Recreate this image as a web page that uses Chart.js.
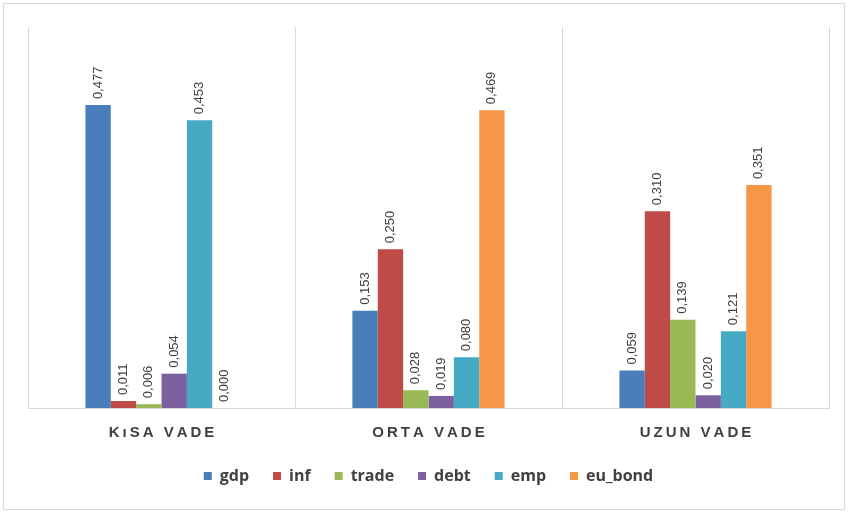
<!DOCTYPE html>
<html>
<head>
<meta charset="utf-8">
<script src="https://cdn.jsdelivr.net/npm/chart.js@4"></script>
<style>
  body { margin: 0; background: #fff; }
  #wrap { position: relative; width: 848px; height: 513px; }
  #frame { position: absolute; left: 3px; top: 3px; width: 840px; height: 505px; border: 1px solid #d9d9d9; pointer-events: none; }
</style>
</head>
<body>
<div id="wrap">
  <canvas id="myChart" width="848" height="513"></canvas>
  <div id="frame"></div>
</div>
<script>
// categories and series
const categories = ["KıSA VADE", "ORTA VADE", "UZUN VADE"];
const seriesNames = ["gdp", "inf", "trade", "debt", "emp", "eu_bond"];
const gdp = [0.477, 0.153, 0.059];
const inf = [0.011, 0.250, 0.310];
const trade = [0.006, 0.028, 0.139];
const debt = [0.054, 0.019, 0.020];
const emp = [0.453, 0.080, 0.121];
const eu_bond = [0.000, 0.469, 0.351];
const colors = ["#4A7EBB", "#BE4B48", "#98B954", "#7D60A0", "#46AAC5", "#F79646"];

const values = [gdp, inf, trade, debt, emp, eu_bond];

// labels above the bars, rotated
const barLabels = {
    id: 'barLabels',
    afterDatasetsDraw(chart) {
        const ctx = chart.ctx;
        ctx.save();
        ctx.font = '13px "Liberation Sans", Arial, sans-serif';
        ctx.fillStyle = '#404040';
        ctx.textAlign = 'left';
        ctx.textBaseline = 'middle';
        chart.data.datasets.forEach(function(ds, i) {
            const meta = chart.getDatasetMeta(i);
            meta.data.forEach(function(bar, j) {
                const txt = ds.data[j].toFixed(3).replace('.', ',');
                ctx.save();
                ctx.translate(bar.x, bar.y - 6);
                ctx.rotate(-Math.PI / 2);
                ctx.fillText(txt, 0, 0);
                ctx.restore();
            });
        });
        ctx.restore();
    }
};

const canvasElement = document.getElementById('myChart');

const config = {
    type: "bar",
    data: {
        labels: categories,
        datasets: seriesNames.map(function(name, i) {
            return {
                label: name,
                data: values[i],
                backgroundColor: colors[i],
                borderWidth: 0,
                categoryPercentage: 0.57,
                barPercentage: 1.0,
            };
        }),
    },
    options: {
        responsive: false,
        animation: false,
        layout: { padding: { left: 28, right: 19, top: 27, bottom: 19 } },
        scales: {
            x: {
                grid: { color: '#d9d9d9', drawTicks: false, offset: true },
                border: { color: '#d9d9d9' },
                afterFit: function(scale) { scale.height = 36; },
                ticks: {
                    padding: 16,
                    color: '#404040',
                    font: { size: 15, weight: 'bold', family: '"Liberation Sans", Arial, sans-serif' },
                    callback: function(v, i) { return categories[i].split('').join('\u2009'); },
                },
            },
            y: {
                display: false,
                min: 0,
                max: 0.6,
            },
        },
        plugins: {
            legend: {
                position: 'bottom',
                labels: {
                    boxWidth: 8,
                    boxHeight: 8,
                    padding: 24,
                    color: '#404040',
                    font: { size: 16, weight: 'bold', family: '"Open Sans", sans-serif' },
                },
            },
            tooltip: { enabled: false },
        },
    },
    plugins: [barLabels],
};

const myChart = new Chart(canvasElement, config);
</script>
</body>
</html>
